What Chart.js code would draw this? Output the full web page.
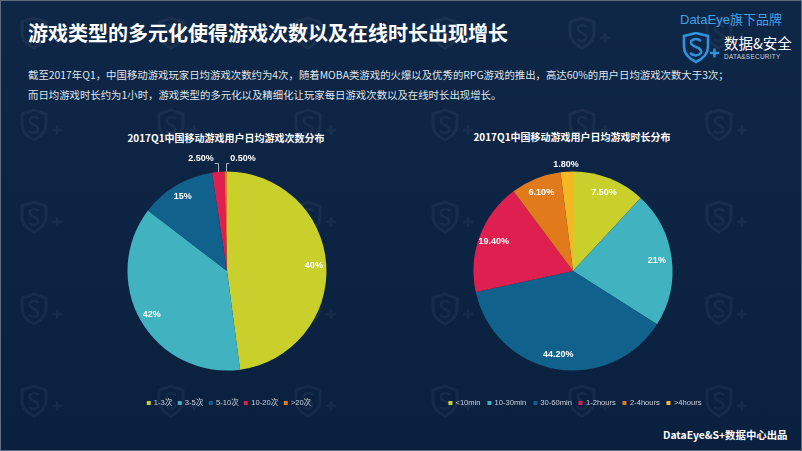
<!DOCTYPE html>
<html><head><meta charset="utf-8">
<script src="https://cdn.jsdelivr.net/npm/chart.js@4.4.0/dist/chart.umd.min.js"></script>
<style>
html,body{margin:0;padding:0;}
body{width:802px;height:451px;overflow:hidden;position:relative;
  background:linear-gradient(180deg,#0f2747 0%,#0c2343 55%,#0a203e 100%);
  font-family:"Noto Sans CJK SC","Noto Sans",sans-serif;}
#wm{position:absolute;left:0;top:0;width:802px;height:451px;opacity:0.045;}
#frame{position:absolute;left:0;top:0;width:800px;height:449px;border:1px solid #5d6d80;pointer-events:none;}
.abs{position:absolute;white-space:nowrap;}
#title{left:28px;top:19px;font-size:20px;font-weight:bold;color:#ffffff;line-height:28px;}
.para{left:28px;font-size:10.4px;color:#dfe5ec;line-height:14px;}
#p1{top:68px;} #p2{top:88px;}
#brand1{left:680px;top:11px;font-size:13px;color:#3fa3e6;font-family:"Liberation Sans","Noto Sans CJK SC",sans-serif;line-height:16px;}
#brand1 .cjk{font-family:"Noto Sans CJK SC";}
#brand2{left:724px;top:34px;font-size:14.5px;color:#ffffff;line-height:17px;}
#brand3{left:724px;top:53px;font-size:6.4px;color:#c8d2de;line-height:8px;letter-spacing:0.3px;font-family:"Liberation Sans",sans-serif;}
#logo{position:absolute;left:681px;top:32px;}
.ctitle{font-size:10px;font-weight:bold;color:#ffffff;line-height:14px;transform:translate(-50%,-50%);}
#t1{left:226px;top:138px;} #t2{left:572px;top:137px;}
canvas{position:absolute;}
#c1{left:77px;top:121px;} #c2{left:423px;top:121px;}
.legend{position:absolute;display:flex;align-items:center;transform:translate(-50%,-50%);white-space:nowrap;
  font-family:"Liberation Sans","Noto Sans CJK SC",sans-serif;font-size:7.6px;color:#c9d1db;line-height:10px;}
.legend .it{display:flex;align-items:center;}
.legend .sq{width:4px;height:4px;margin-right:3px;}
#lg1{left:229px;top:403px;gap:5.5px;} #lg2{left:575px;top:403px;gap:7px;}
#foot{left:663px;top:427px;font-size:10.4px;font-weight:bold;color:#ffffff;line-height:16px;}
</style></head><body>
<svg id="wm" width="802" height="451">
  <defs>
    <pattern id="pt" x="0" y="0" width="137" height="92" patternUnits="userSpaceOnUse">
      <path d="M22 22 L34 18 L46 22 L46 33 Q46 42 34 48 Q22 42 22 33 Z" fill="none" stroke="#ffffff" stroke-width="3"/>
      <path d="M39 27 Q34 23 30 27 Q29 31 34 33 Q39 35 38 39 Q34 43 29 39" fill="none" stroke="#ffffff" stroke-width="2.5"/>
      <path d="M52 38 L62 38 M57 33 L57 43" stroke="#ffffff" stroke-width="2.5"/>
    </pattern>
  </defs>
  <rect x="0" y="0" width="802" height="451" fill="url(#pt)"/>
</svg>
<div id="frame"></div>

<div id="title" class="abs">游戏类型的多元化使得游戏次数以及在线时长出现增长</div>
<div id="p1" class="abs para">截至2017年Q1，中国移动游戏玩家日均游戏次数约为4次，随着MOBA类游戏的火爆以及优秀的RPG游戏的推出，高达60%的用户日均游戏次数大于3次；</div>
<div id="p2" class="abs para">而日均游戏时长约为1小时，游戏类型的多元化以及精细化让玩家每日游戏次数以及在线时长出现增长。</div>

<div id="brand1" class="abs">DataEye<span class="cjk">旗下品牌</span></div>
<svg id="logo" width="40" height="32">
  <path d="M3 4 L15 1 L27 4 L27 15 Q27 24 15 30 Q3 24 3 15 Z" fill="none" stroke="#2e92dc" stroke-width="2.6"/>
  <path d="M20 9 Q15 5 10 9 Q9 13 15 15 Q21 17 20 21 Q15 26 9 21" fill="none" stroke="#2e92dc" stroke-width="2.4"/>
  <path d="M29 21 L38 21 M33.5 16.5 L33.5 25.5" stroke="#2e92dc" stroke-width="2.4"/>
</svg>
<div id="brand2" class="abs">数据&amp;安全</div>
<div id="brand3" class="abs">DATA&amp;SECURITY</div>

<div id="t1" class="abs ctitle">2017Q1中国移动游戏用户日均游戏次数分布</div>
<div id="t2" class="abs ctitle">2017Q1中国移动游戏用户日均游戏时长分布</div>

<canvas id="c1" width="300" height="300"></canvas>
<canvas id="c2" width="300" height="300"></canvas>

<div id="lg1" class="legend"></div>
<div id="lg2" class="legend"></div>

<div id="foot" class="abs">DataEye&amp;S+数据中心出品</div>

<script>
// Left chart: daily play count distribution
const countCategories = ['1-3次', '3-5次', '5-10次', '10-20次', '>20次'];
// slice shares as drawn in the picture (measured from slice angles)
const countShares = [47.9, 37.5, 12.2, 2.0, 0.4];
// label texts printed on the slices
const countLabels = ['40%', '42%', '15%', '2.50%', '0.50%'];

// Right chart: daily play time distribution
const durationCategories = ['<10min', '10-30min', '30-60min', '1-2hours', '2-4hours', '>4hours'];
const durationShares = [11.9, 22.1, 37.6, 18.2, 8.2, 2.0];
const durationLabels = ['7.50%', '21%', '44.20%', '19.40%', '6.10%', '1.80%'];

const countColors = ['#c9cf2b', '#41b3c0', '#11618d', '#df1f4f', '#e07a1a'];
const durationColors = ['#c9cf2b', '#41b3c0', '#11618d', '#df1f4f', '#e07a1a', '#f4b822'];

const sliceLabels = {
  id: 'sliceLabels',
  afterDatasetsDraw(chart, args, opts) {
    const ctx = chart.ctx;
    const meta = chart.getDatasetMeta(0);
    ctx.save();
    ctx.font = 'bold 9px "Liberation Sans", Arial, sans-serif';
    ctx.textAlign = 'center';
    ctx.textBaseline = 'middle';
    meta.data.forEach((arc, i) => {
      const p = arc.getProps(['x', 'y', 'startAngle', 'endAngle', 'outerRadius'], true);
      const mid = (p.startAngle + p.endAngle) / 2;
      const text = opts.texts[i];
      const out = opts.outside && opts.outside[i];
      ctx.fillStyle = '#ffffff';
      if (out) {
        const tx = p.x + out.dx, ty = p.y + out.dy;
        if (out.leader) {
          const ex = p.x + Math.cos(mid) * p.outerRadius;
          const ey = p.y + Math.sin(mid) * p.outerRadius;
          const w = ctx.measureText(text).width;
          const hx = tx < ex ? tx + w / 2 + 1 : tx - w / 2 - 1;
          ctx.strokeStyle = '#aeb7c2';
          ctx.lineWidth = 1;
          ctx.beginPath();
          ctx.moveTo(Math.round(ex) + 0.5, ey);
          ctx.lineTo(Math.round(ex) + 0.5, Math.round(ty + 4) + 0.5);
          ctx.lineTo(hx, Math.round(ty + 4) + 0.5);
          ctx.stroke();
        }
        ctx.fillText(text, tx, ty);
      } else {
        const r = p.outerRadius * opts.radiusFactor;
        ctx.fillText(text, p.x + Math.cos(mid) * r, p.y + Math.sin(mid) * r);
      }
    });
    ctx.restore();
  }
};

function makePie(id, cats, vals, colors, labelOpts) {
  return new Chart(document.getElementById(id), {
    type: 'pie',
    data: { labels: cats, datasets: [{ data: vals, backgroundColor: colors, borderWidth: 0, hoverOffset: 0 }] },
    options: {
      responsive: false,
      animation: false,
      devicePixelRatio: 1,
      layout: { padding: 50.5 },
      plugins: { legend: { display: false }, tooltip: { enabled: false }, title: { display: false }, sliceLabels: labelOpts }
    },
    plugins: [sliceLabels]
  });
}

makePie('c1', countCategories, countShares, countColors, {
  texts: countLabels, radiusFactor: 0.875,
  outside: { 3: { dx: -26, dy: -112, leader: true }, 4: { dx: 16, dy: -112, leader: true } }
});
makePie('c2', durationCategories, durationShares, durationColors, {
  texts: durationLabels, radiusFactor: 0.85,
  outside: { 5: { dx: -7, dy: -106, leader: false } }
});

function buildLegend(elId, cats, colors) {
  const el = document.getElementById(elId);
  cats.forEach((c, i) => {
    const it = document.createElement('div'); it.className = 'it';
    const sq = document.createElement('span'); sq.className = 'sq'; sq.style.background = colors[i];
    const tx = document.createElement('span'); tx.textContent = c;
    it.appendChild(sq); it.appendChild(tx); el.appendChild(it);
  });
}
buildLegend('lg1', countCategories, countColors);
buildLegend('lg2', durationCategories, durationColors);
</script>
</body></html>
